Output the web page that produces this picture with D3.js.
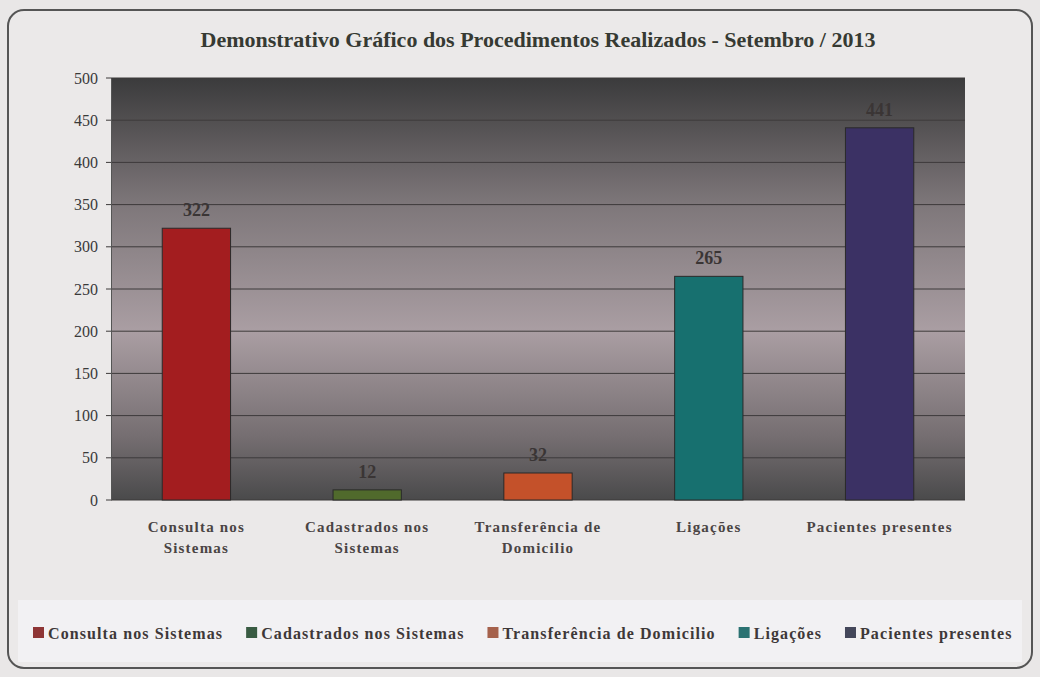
<!DOCTYPE html>
<html lang="pt">
<head>
<meta charset="utf-8" />
<title>Demonstrativo Gráfico</title>
<script src="https://cdn.jsdelivr.net/npm/d3@7"></script>
<style>
    body { margin: 0; background: #e9e7e7; }
    svg { display: block; }
    text { font-family: "Liberation Serif", "Times New Roman", serif; }
</style>
</head>
<body>
<script>
    // chart data
    var categories = ["Consulta nos Sistemas", "Cadastrados nos Sistemas", "Transferência de Domicilio", "Ligações", "Pacientes presentes"];
    var axisLines = [["Consulta nos", "Sistemas"], ["Cadastrados nos", "Sistemas"], ["Transferência de", "Domicilio"], ["Ligações"], ["Pacientes presentes"]];
    var values = [322, 12, 32, 265, 441];
    var yTicks = [0, 50, 100, 150, 200, 250, 300, 350, 400, 450, 500];
    var barColors = ["#a31d1f", "#506a2c", "#c4512a", "#17706f", "#3b3164"];
    var legendColors = ["#8e3535", "#395b42", "#a5614b", "#2b7272", "#44475a"];

    var w = 1040, h = 677;
    var plot = { left: 111, right: 965, top: 78, bottom: 500 };

    var svg = d3.select("body").append("svg")
        .attr("width", w)
        .attr("height", h);

    var defs = svg.append("defs");
    var grad = defs.append("linearGradient")
        .attr("id", "plotBg")
        .attr("x1", 0).attr("y1", 0).attr("x2", 0).attr("y2", 1);
    grad.append("stop").attr("offset", "0%").attr("stop-color", "#3b3b3c");
    grad.append("stop").attr("offset", "30%").attr("stop-color", "#7e777a");
    grad.append("stop").attr("offset", "60%").attr("stop-color", "#aa9ea3");
    grad.append("stop").attr("offset", "85%").attr("stop-color", "#756e71");
    grad.append("stop").attr("offset", "100%").attr("stop-color", "#4a4a4b");

    // outer frame
    svg.append("rect")
        .attr("x", 8).attr("y", 10)
        .attr("width", 1024).attr("height", 658)
        .attr("rx", 16)
        .attr("fill", "#ebe9e9")
        .attr("stroke", "#555")
        .attr("stroke-width", 2);

    // lighter legend strip
    svg.append("rect")
        .attr("x", 18).attr("y", 600)
        .attr("width", 1004).attr("height", 62)
        .attr("fill", "#f2f1f3");

    var xScale = d3.scaleBand()
        .domain(categories)
        .range([plot.left, plot.right])
        .paddingInner(0.6)
        .paddingOuter(0.3);

    var yScale = d3.scaleLinear()
        .domain([0, 500])
        .range([plot.bottom, plot.top]);

    svg.append("rect")
        .attr("x", plot.left).attr("y", plot.top)
        .attr("width", plot.right - plot.left)
        .attr("height", plot.bottom - plot.top)
        .attr("fill", "url(#plotBg)");

    // gridlines
    svg.append("g").selectAll("line")
        .data(yTicks)
        .enter()
        .append("line")
        .attr("x1", plot.left - 5)
        .attr("x2", plot.right)
        .attr("y1", function(d) { return yScale(d); })
        .attr("y2", function(d) { return yScale(d); })
        .attr("stroke", "#3d3a3b")
        .attr("stroke-width", 1);

    // y axis
    var yAxis = d3.axisLeft(yScale)
        .tickValues(yTicks)
        .tickSize(0)
        .tickPadding(13);
    var yg = svg.append("g")
        .attr("transform", "translate(" + plot.left + ",0)")
        .call(yAxis);
    yg.select(".domain").attr("stroke", "#555");
    yg.selectAll("text")
        .attr("font-family", "Liberation Serif, serif")
        .attr("font-size", "16px")
        .attr("fill", "#3a3a3a");

    // bars
    svg.append("g").selectAll("rect")
        .data(values)
        .enter()
        .append("rect")
        .attr("x", function(d, i) { return xScale(categories[i]); })
        .attr("y", function(d) { return yScale(d); })
        .attr("width", xScale.bandwidth())
        .attr("height", function(d) { return yScale(0) - yScale(d); })
        .attr("fill", function(d, i) { return barColors[i]; })
        .attr("stroke", "#2a2a2a")
        .attr("stroke-width", 1);

    // value labels
    svg.append("g").selectAll("text")
        .data(values)
        .enter()
        .append("text")
        .text(function(d) { return d; })
        .attr("x", function(d, i) { return xScale(categories[i]) + xScale.bandwidth() / 2; })
        .attr("y", function(d) { return yScale(d) - 12; })
        .attr("text-anchor", "middle")
        .attr("font-size", "18px")
        .attr("font-weight", "bold")
        .attr("fill", "#3a3535");

    // x axis labels
    var xg = svg.append("g");
    axisLines.forEach(function(lines, i) {
        var t = xg.append("text")
            .attr("x", xScale(categories[i]) + xScale.bandwidth() / 2)
            .attr("y", 532)
            .attr("text-anchor", "middle")
            .attr("font-size", "15px")
            .attr("font-weight", "bold")
            .attr("letter-spacing", "1.2px")
            .attr("fill", "#4a4444");
        lines.forEach(function(line, j) {
            t.append("tspan")
                .attr("x", xScale(categories[i]) + xScale.bandwidth() / 2)
                .attr("dy", j === 0 ? 0 : 21)
                .text(line);
        });
    });

    // title
    svg.append("text")
        .attr("x", 538)
        .attr("y", 47)
        .attr("text-anchor", "middle")
        .attr("font-size", "22px")
        .attr("font-weight", "bold")
        .attr("fill", "#363a33")
        .text("Demonstrativo Gráfico dos Procedimentos Realizados - Setembro / 2013");

    // legend
    var legend = svg.append("g");
    var lx = 33;
    categories.forEach(function(c, i) {
        var item = legend.append("g").attr("transform", "translate(" + lx + ",0)");
        item.append("rect")
            .attr("x", 0).attr("y", 627)
            .attr("width", 11).attr("height", 11)
            .attr("fill", legendColors[i]);
        var t = item.append("text")
            .attr("x", 15)
            .attr("y", 639)
            .attr("font-size", "16px")
            .attr("font-weight", "bold")
            .attr("letter-spacing", "1.1px")
            .attr("fill", "#3e3838")
            .text(c);
        lx += 15 + t.node().getComputedTextLength() + 23;
    });
</script>
</body>
</html>
